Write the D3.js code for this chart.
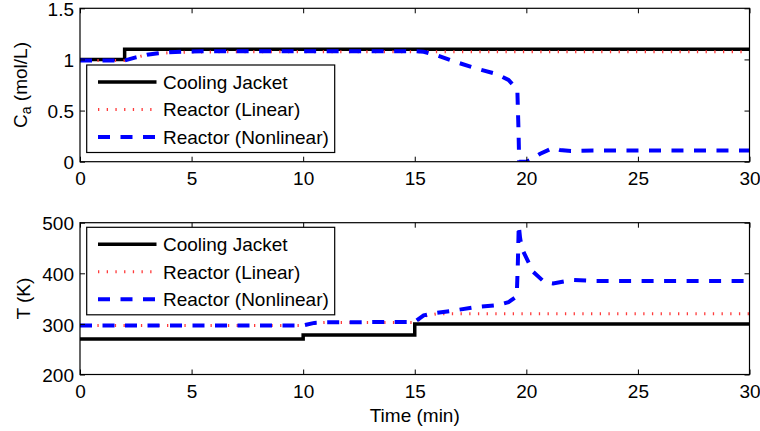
<!DOCTYPE html>
<html>
<head>
<meta charset="utf-8">
<script src="https://cdn.jsdelivr.net/npm/d3@7"></script>
<style>
  html, body { margin: 0; padding: 0; background: #fff; }
  svg { display: block; font-family: "Liberation Sans", Arial, Helvetica, sans-serif; }
</style>
</head>
<body>
<svg id="chart" width="760" height="431"></svg>
<script>
// ---------- data ----------
const xTicks = [0, 5, 10, 15, 20, 25, 30];
const caTicks = [0, 0.5, 1, 1.5];
const tTicks = [200, 300, 400, 500];
const seriesNames = ["Cooling Jacket", "Reactor (Linear)", "Reactor (Nonlinear)"];

// Top panel: concentration C_a (mol/L)
const caJacketTime = [0, 2, 2, 30];
const caJacket     = [1.0, 1.0, 1.1, 1.1];
const caLinTime = [0, 2, 2.5, 3, 3.5, 4, 5, 6, 30];
const caLin     = [0.99, 0.99, 1.02, 1.045, 1.058, 1.066, 1.072, 1.074, 1.074];
const caNlTime = [0, 2, 2.5, 3, 3.5, 4, 5, 6, 15, 15.4, 16, 16.7, 17.7, 18.7, 19.2, 19.45, 19.6, 19.65, 19.68, 20.0, 20.2, 20.6, 21.2, 21.5, 22, 23, 30];
const caNl     = [0.99, 0.99, 1.02, 1.045, 1.06, 1.07, 1.078, 1.08, 1.08, 1.075, 1.04, 0.985, 0.915, 0.855, 0.8, 0.74, 0.68, 0.3, 0.0, 0.0, 0.02, 0.075, 0.135, 0.115, 0.105, 0.11, 0.11];

// Bottom panel: temperature T (K)
const tJacketTime = [0, 10, 10, 15, 15, 30];
const tJacket     = [270, 270, 278, 278, 300, 300];
const tLinTime = [0, 10, 10.5, 11, 15, 15.5, 16, 30];
const tLin     = [297, 297, 302, 303, 303, 316, 320, 320];
const tNlTime = [0, 10, 10.5, 11, 15, 15.4, 16, 16.7, 17.7, 18.7, 19.2, 19.5, 19.58, 19.62, 19.66, 19.72, 19.8, 20.3, 20.8, 21.2, 22.1, 23.1, 30];
const tNl     = [297, 297, 302, 303, 304, 317, 322, 326, 333, 337, 343, 352, 368, 420, 495, 470, 449, 403, 383, 380, 387, 385, 385];

// ---------- layout ----------
const svg = d3.select("#chart");
const left = 80, right = 749.5;
const panels = [
  { top: 8.3, bottom: 161.7, domain: [0, 1.5], ticks: caTicks, fmt: d => String(d),
    series: [[caJacketTime, caJacket], [caLinTime, caLin], [caNlTime, caNl]],
    legendTop: 65, ylabel: "ca" },
  { top: 222.7, bottom: 374.5, domain: [200, 500], ticks: tTicks, fmt: d => String(d),
    series: [[tJacketTime, tJacket], [tLinTime, tLin], [tNlTime, tNl]],
    legendTop: 227.3, ylabel: "T" }
];
const styles = [
  { stroke: "#000", width: 3.5, dash: null },
  { stroke: "#ff3b3b", width: 3, dash: "1.3,7.4" },
  { stroke: "#0000ff", width: 4, dash: "12,10.5" }
];
const fontSize = 19;

const x = d3.scaleLinear().domain([0, 30]).range([left, right]);

panels.forEach((p, pi) => {
  const y = d3.scaleLinear().domain(p.domain).range([p.bottom, p.top]);
  const g = svg.append("g");

  // clip
  const clipId = "clip" + pi;
  svg.append("clipPath").attr("id", clipId).append("rect")
    .attr("x", left).attr("y", p.top).attr("width", right - left).attr("height", p.bottom - p.top);

  // lines
  const line = d3.line().x(d => x(d[0])).y(d => y(d[1]));
  p.series.forEach((s, si) => {
    const pts = s[0].map((t, i) => [t, s[1][i]]);
    const st = styles[si];
    g.append("path").datum(pts)
      .attr("clip-path", `url(#${clipId})`)
      .attr("d", line)
      .attr("fill", "none")
      .attr("stroke", st.stroke)
      .attr("stroke-width", st.width)
      .attr("stroke-dasharray", st.dash)
      .attr("stroke-linejoin", "miter");
  });

  // axes
  const xb = g.append("g").attr("transform", `translate(0,${p.bottom})`)
    .call(d3.axisBottom(x).tickValues(xTicks).tickSize(-5).tickPadding(10).tickSizeOuter(0));
  const xt = g.append("g").attr("transform", `translate(0,${p.top})`)
    .call(d3.axisTop(x).tickValues(xTicks).tickSize(-5).tickFormat("").tickSizeOuter(0));
  const yl = g.append("g").attr("transform", `translate(${left},0)`)
    .call(d3.axisLeft(y).tickValues(p.ticks).tickSize(-5).tickPadding(6).tickFormat(p.fmt).tickSizeOuter(0));
  const yr = g.append("g").attr("transform", `translate(${right},0)`)
    .call(d3.axisRight(y).tickValues(p.ticks).tickSize(-5).tickFormat("").tickSizeOuter(0));
  [xb, xt, yl, yr].forEach(a => {
    a.select(".domain").remove();
    a.selectAll("line").attr("stroke", "#000").attr("stroke-width", 1);
    a.selectAll("text").attr("font-size", fontSize).attr("fill", "#000")
      .attr("font-family", "Liberation Sans, Arial, sans-serif");
  });
  xb.selectAll("text").attr("dy", "0.71em");
  yl.selectAll("text").attr("dy", "0.38em");

  // box
  g.append("rect").attr("x", left).attr("y", p.top)
    .attr("width", right - left).attr("height", p.bottom - p.top)
    .attr("fill", "none").attr("stroke", "#000").attr("stroke-width", 1.2);

  // legend
  const lg = g.append("g");
  const lx = 86.7, lw = 248, lh = 87.5, ly = p.legendTop;
  lg.append("rect").attr("x", lx).attr("y", ly).attr("width", lw).attr("height", lh)
    .attr("fill", "#fff").attr("stroke", "#000").attr("stroke-width", 1.2);
  const rows = [17, 44.5, 72];
  seriesNames.forEach((name, i) => {
    const cy = ly + rows[i];
    const st = styles[i];
    lg.append("line").attr("x1", 98).attr("x2", 156.5).attr("y1", cy).attr("y2", cy)
      .attr("stroke", st.stroke).attr("stroke-width", st.width)
      .attr("stroke-dasharray", st.dash);
    lg.append("text").attr("x", 163).attr("y", cy).attr("dy", "0.36em")
      .attr("font-size", fontSize).attr("fill", "#000").text(name);
  });

  // y label
  const cyMid = (p.top + p.bottom) / 2;
  if (p.ylabel === "ca") {
    const t = g.append("text").attr("transform", `translate(27,${cyMid}) rotate(-90)`)
      .attr("text-anchor", "middle").attr("font-size", fontSize).attr("fill", "#000");
    t.append("tspan").text("C");
    t.append("tspan").attr("font-size", 14).attr("dy", 4).text("a");
    t.append("tspan").attr("dy", -4).text(" (mol/L)");
  } else {
    g.append("text").attr("transform", `translate(29.5,${cyMid}) rotate(-90)`)
      .attr("text-anchor", "middle").attr("font-size", fontSize).attr("fill", "#000")
      .text("T (K)");
  }
});

// x label
svg.append("text").attr("x", (left + right) / 2).attr("y", 422)
  .attr("text-anchor", "middle").attr("font-size", fontSize).attr("fill", "#000")
  .text("Time (min)");
</script>
</body>
</html>
